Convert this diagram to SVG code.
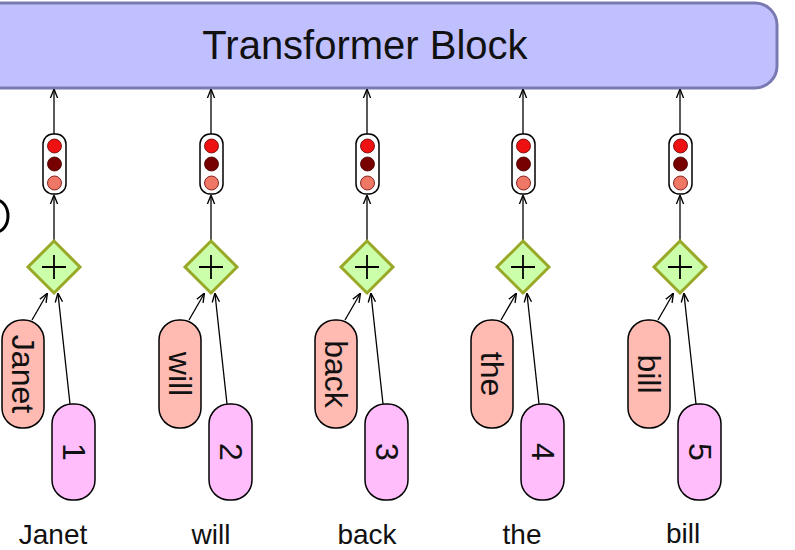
<svg xmlns="http://www.w3.org/2000/svg" width="795" height="550" viewBox="0 0 795 550">
<style>
text{font-family:"Liberation Sans",Arial,sans-serif;fill:#111}
.ln{stroke:#000;stroke-width:1.3;fill:none}
.wp{fill:#ffbab2;stroke:#000;stroke-width:1.5}
.pp{fill:#ffbdfc;stroke:#000;stroke-width:1.5}
.dm{fill:#ccffaa;stroke:#9aa828;stroke-width:3}
.tl{fill:#fff;stroke:#000;stroke-width:1.5}
.lb{font-size:28px;text-anchor:middle}
.pl{font-size:32px;text-anchor:middle}
</style>
<defs>
<marker id="a" viewBox="0 0 10 10" refX="9" refY="5" markerWidth="7" markerHeight="7" orient="auto"><path d="M0,1 L10,5 L0,9" fill="none" stroke="#000" stroke-width="1.5"/></marker>
<g id="col">
<rect class="tl" x="-11" y="134" width="23" height="60" rx="10"/>
<circle cx="0.5" cy="146" r="7" fill="#ee1111" stroke="#600" stroke-width="0.8"/>
<circle cx="0.5" cy="164" r="7" fill="#770000" stroke="#400" stroke-width="0.8"/>
<circle cx="0.5" cy="183" r="7" fill="#ee7766" stroke="#600" stroke-width="0.8"/>
<path class="dm" d="M0,241 L26,267 L0,293 L-26,267 Z"/>
<path d="M-12,267 H12 M0,255 V279" stroke="#000" stroke-width="1.8"/>
</g>
<g id="arr">
<path class="ln" d="M0,240 V196" marker-end="url(#a)"/>
<path class="ln" d="M0,134 V90" marker-end="url(#a)"/>
<path class="ln" d="M-22,320 L-7,294" marker-end="url(#a)"/>
<path class="ln" d="M16,404 L4,294" marker-end="url(#a)"/>
</g>
</defs>
<g id="block">
<rect x="-30" y="3" width="807" height="85" rx="22" fill="#c0c0ff" stroke="#7a7ab2" stroke-width="3"/>
<text x="365" y="59" font-size="40" text-anchor="middle">Transformer Block</text>
</g>
<path d="M-4,200 A12,16 0 0 1 -4,232" fill="none" stroke="#000" stroke-width="3"/>
<g id="connectors">
<use href="#arr" x="54"/>
<use href="#arr" x="211"/>
<use href="#arr" x="367"/>
<use href="#arr" x="523"/>
<use href="#arr" x="680"/>
</g>
<g id="n1" transform="translate(54,0)"><use href="#col"/>
<rect class="wp" x="-52" y="320" width="42" height="108" rx="20"/><text class="pl" transform="translate(-31,374) rotate(90)" y="11">Janet</text>
<rect class="pp" x="-2" y="404" width="43" height="96" rx="20"/><text class="pl" transform="translate(20,452) rotate(90)" y="11">1</text></g>
<g id="n2" transform="translate(211,0)"><use href="#col"/>
<rect class="wp" x="-52" y="320" width="42" height="108" rx="20"/><text class="pl" transform="translate(-31,374) rotate(90)" y="11">will</text>
<rect class="pp" x="-2" y="404" width="43" height="96" rx="20"/><text class="pl" transform="translate(20,452) rotate(90)" y="11">2</text></g>
<g id="n3" transform="translate(367,0)"><use href="#col"/>
<rect class="wp" x="-52" y="320" width="42" height="108" rx="20"/><text class="pl" transform="translate(-31,374) rotate(90)" y="11">back</text>
<rect class="pp" x="-2" y="404" width="43" height="96" rx="20"/><text class="pl" transform="translate(20,452) rotate(90)" y="11">3</text></g>
<g id="n4" transform="translate(523,0)"><use href="#col"/>
<rect class="wp" x="-52" y="320" width="42" height="108" rx="20"/><text class="pl" transform="translate(-31,374) rotate(90)" y="11">the</text>
<rect class="pp" x="-2" y="404" width="43" height="96" rx="20"/><text class="pl" transform="translate(20,452) rotate(90)" y="11">4</text></g>
<g id="n5" transform="translate(680,0)"><use href="#col"/>
<rect class="wp" x="-52" y="320" width="42" height="108" rx="20"/><text class="pl" transform="translate(-31,374) rotate(90)" y="11">bill</text>
<rect class="pp" x="-2" y="404" width="43" height="96" rx="20"/><text class="pl" transform="translate(20,452) rotate(90)" y="11">5</text></g>
<g id="labels">
<text class="lb" x="53" y="544">Janet</text>
<text class="lb" x="211" y="544">will</text>
<text class="lb" x="367" y="544">back</text>
<text class="lb" x="522" y="544">the</text>
<text class="lb" x="683" y="543">bill</text>
</g>
</svg>
